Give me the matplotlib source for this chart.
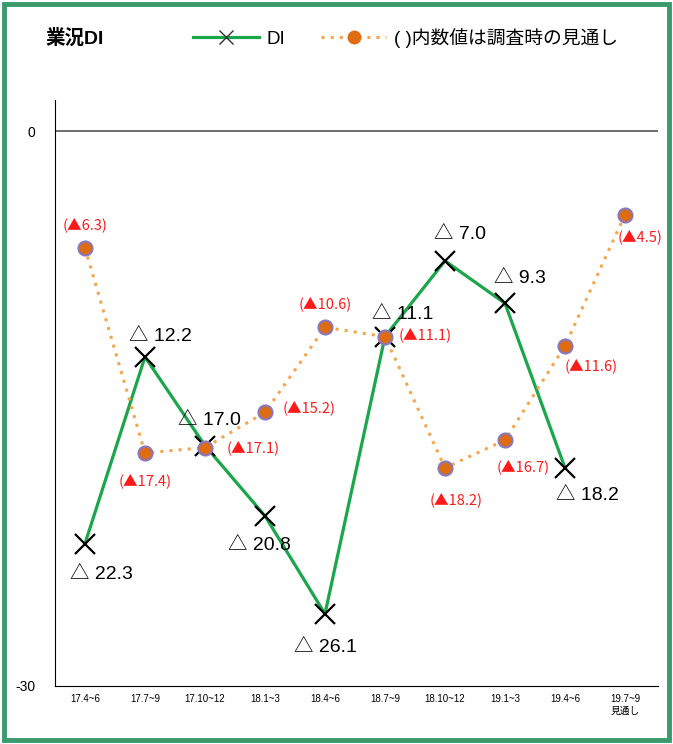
import matplotlib.pyplot as plt
import matplotlib.patches as patches
from matplotlib.lines import Line2D

plt.rcParams['font.family'] = ['Liberation Sans', 'Noto Sans CJK JP', 'DejaVu Sans']

# data
periods = ['17.4~6', '17.7~9', '17.10~12', '18.1~3', '18.4~6',
           '18.7~9', '18.10~12', '19.1~3', '19.4~6', '19.7~9\n見通し']
di = [-22.3, -12.2, -17.0, -20.8, -26.1, -11.1, -7.0, -9.3, -18.2]
forecast = [-6.3, -17.4, -17.1, -15.2, -10.6, -11.1, -18.2, -16.7, -11.6, -4.5]

# label offsets in points (dx, dy)
di_off = [(12, -22), (11, 15), (3, 18), (-4, -21), (0, -24),
          (13, 16), (11, 19), (11, 18), (16, -20)]
fc_off = [(0, 17), (0, -20), (35, 0), (32, 3), (0, 17),
          (29, 1), (8, -23), (13, -19), (19, -14), (11, -16)]

green = '#1aa64a'
orange = '#f7a54c'

fig = plt.figure(figsize=(6.73, 7.44), dpi=100)
ax = fig.add_axes([0.0817, 0.078, 0.896, 0.7876])

x = list(range(len(periods)))
ax.axhline(0, color='#555555', lw=1.2)
ax.plot(x[:len(di)], di, color=green, lw=2.3, marker='x', ms=14,
        mec='black', mew=1.6, zorder=3)
ax.plot(x, forecast, color=orange, lw=2.2, ls=(0, (1, 2)), marker='o',
        ms=10, mfc='#e06c12', mec='#8878c0', mew=1.6, zorder=4)

for i, v in enumerate(di):
    ax.annotate('△ %.1f' % abs(v), (i, v), xytext=di_off[i],
                textcoords='offset points', ha='center', va='center',
                fontsize=14, color='black', zorder=5)
for i, v in enumerate(forecast):
    ax.annotate('(▲%.1f)' % abs(v), (i, v), xytext=fc_off[i],
                textcoords='offset points', ha='center', va='center',
                fontsize=10.5, color='#ff1a1a', zorder=5,
                family=['Noto Sans CJK JP', 'DejaVu Sans'])

ax.set_xlim(-0.5, 9.55)
ax.set_ylim(-30, 1.7)
ax.set_yticks([0, -30])
ax.set_yticklabels(['0', '-30'], fontsize=10)
ax.set_xticks(x)
ax.set_xticklabels(periods, fontsize=7, va='top')
ax.tick_params(axis='y', length=0, pad=14)
ax.tick_params(axis='x', length=0, pad=6)
ax.spines['top'].set_visible(False)
ax.spines['right'].set_visible(False)
ax.spines['left'].set_color('black')
ax.spines['bottom'].set_color('black')

fig.text(0.067, 0.949, '業況DI', fontsize=14, fontweight='bold', va='center')

handles = [Line2D([], [], color=green, lw=2.3, marker='x', ms=10,
                  mec='#333333', mew=1),
           Line2D([], [], color=orange, lw=2.2, ls=(0, (1, 2)), marker='o',
                  ms=9, mfc='#e06c12', mec='#e06c12')]
fig.legend(handles, ['DI', '( )内数値は調査時の見通し'], ncol=2, frameon=False,
           loc='center left', bbox_to_anchor=(0.262, 0.949),
           handlelength=3.5, columnspacing=1.9, handletextpad=0.4,
           fontsize=13.5)

border = patches.Rectangle((0.006, 0.005), 0.988, 0.99, transform=fig.transFigure,
                           fill=False, edgecolor='#3a9a6c', lw=3.5)
fig.add_artist(border)

fig.savefig('out.png', dpi=100)
